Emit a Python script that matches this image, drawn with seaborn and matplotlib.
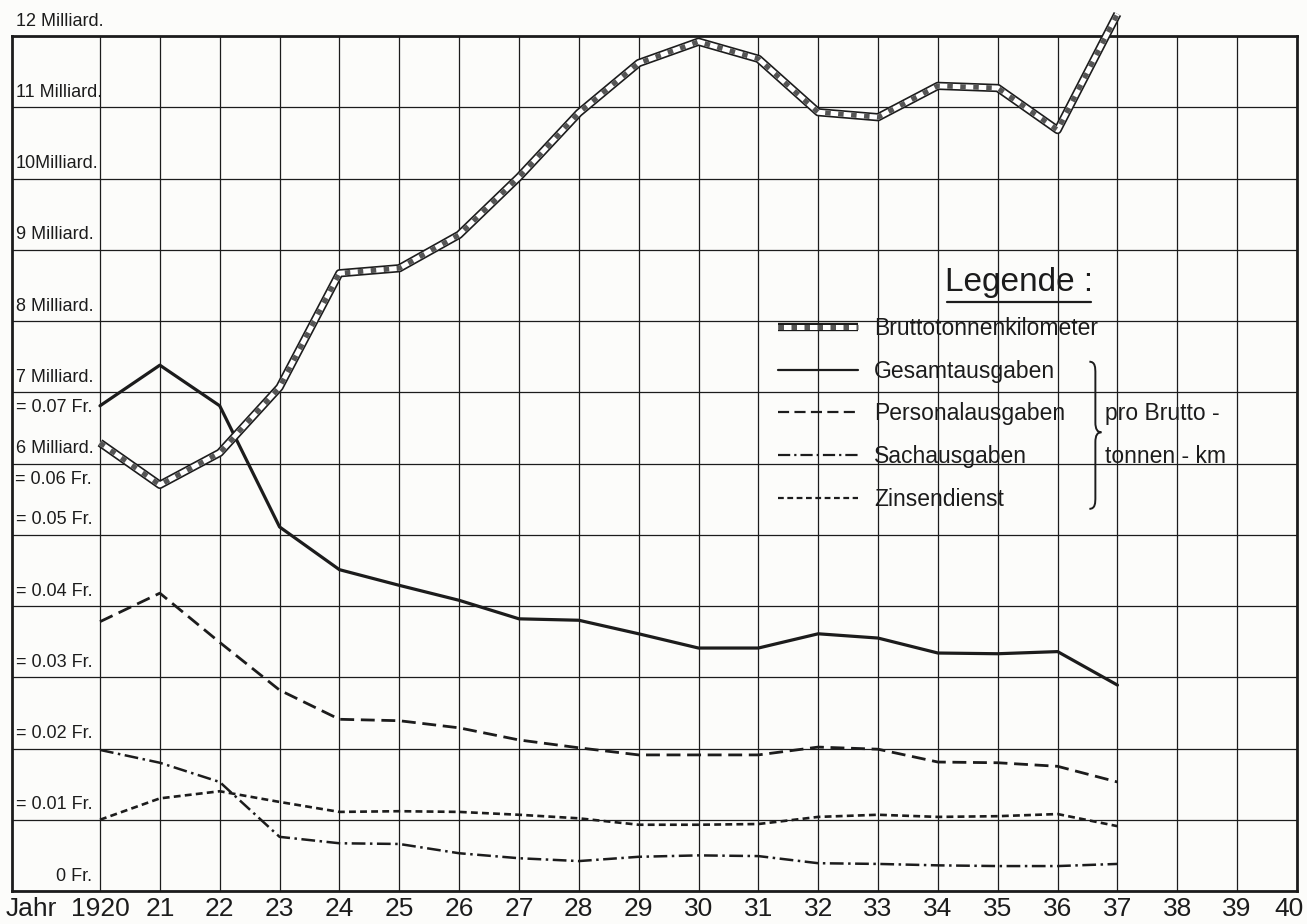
import numpy as np
import pandas as pd
import matplotlib.pyplot as plt
import seaborn as sns
from matplotlib.lines import Line2D
from matplotlib.path import Path
from matplotlib.patches import PathPatch
from matplotlib.legend_handler import HandlerTuple
import matplotlib.transforms as mtransforms

plt.switch_backend('Agg')

# Daten - 1 Milliard BTKM entspricht 0.01 Fr. auf der gemeinsamen Skala
years = list(range(1920, 1938))
brutto_mrd = [6.29, 5.70, 6.15, 7.07, 8.67, 8.74, 9.21, 10.02, 10.92, 11.62,
              11.92, 11.68, 10.93, 10.86, 11.30, 11.27, 10.68, 12.31]
gesamt_fr = [0.0681, 0.0738, 0.0681, 0.0511, 0.0451, 0.0429, 0.0408, 0.0382, 0.0380,
             0.0361, 0.0341, 0.0341, 0.0361, 0.0355, 0.0334, 0.0333, 0.0336, 0.0289]
personal_fr = [0.0378, 0.0418, 0.0349, 0.0282, 0.0241, 0.0239, 0.0229, 0.0212, 0.0201,
               0.0191, 0.0191, 0.0191, 0.0202, 0.0199, 0.0181, 0.0180, 0.0175, 0.0153]
sach_fr = [0.0198, 0.0180, 0.0153, 0.0076, 0.0067, 0.0066, 0.0053, 0.0046, 0.0042,
           0.0048, 0.0050, 0.0049, 0.0039, 0.0038, 0.0036, 0.0035, 0.0035, 0.0038]
zins_fr = [0.0100, 0.0130, 0.0140, 0.0125, 0.0111, 0.0112, 0.0111, 0.0107, 0.0102,
           0.0093, 0.0093, 0.0094, 0.0104, 0.0107, 0.0104, 0.0105, 0.0108, 0.0091]

x_ticks = list(range(1920, 1941))
x_labels = ['1920'] + [str(y % 100) for y in range(1921, 1941)]
mrd_ticks = [12, 11, 10, 9, 8, 7, 6]
mrd_labels = ['12 Milliard.', '11 Milliard.', '10Milliard.', '9 Milliard.',
              '8 Milliard.', '7 Milliard.', '6 Milliard.']
fr_ticks = [0.07, 0.06, 0.05, 0.04, 0.03, 0.02, 0.01, 0.0]
fr_labels = ['= 0.07 Fr.', '= 0.06 Fr.', '= 0.05 Fr.', '= 0.04 Fr.',
             '= 0.03 Fr.', '= 0.02 Fr.', '= 0.01 Fr.', '0 Fr.']
legend_labels = ['Bruttotonnenkilometer', 'Gesamtausgaben', 'Personalausgaben',
                 'Sachausgaben', 'Zinsendienst']

df = pd.DataFrame({
    'Jahr': years,
    'Brutto': brutto_mrd,
    'Gesamt': np.array(gesamt_fr) * 100,
    'Personal': np.array(personal_fr) * 100,
    'Sach': np.array(sach_fr) * 100,
    'Zins': np.array(zins_fr) * 100,
})

sns.set_theme(style='white')
fam = ['Liberation Sans', 'DejaVu Sans']
plt.rcParams['font.family'] = fam

ink = '#1c1c1c'
paper = '#fcfcfa'
W, H = 1307, 924

fig = plt.figure(figsize=(W / 100, H / 100), dpi=100, facecolor=paper)
ax = fig.add_axes([12 / W, 1 - 891 / H, 1285 / W, 855 / H])
ax.set_facecolor(paper)

# Linienstile
ls_personal = (0, (5, 2.4))
ls_sach = (0, (5.5, 1.8, 1.0, 1.8))
ls_zins = (0, (2.6, 1.6))

sns.lineplot(data=df, x='Jahr', y='Gesamt', ax=ax, color=ink, lw=2.3, legend=False, zorder=4)
sns.lineplot(data=df, x='Jahr', y='Personal', ax=ax, color=ink, lw=2.0,
             linestyle=ls_personal, legend=False, zorder=4)
sns.lineplot(data=df, x='Jahr', y='Sach', ax=ax, color=ink, lw=1.8,
             linestyle=ls_sach, legend=False, zorder=4)
sns.lineplot(data=df, x='Jahr', y='Zins', ax=ax, color=ink, lw=1.9,
             linestyle=ls_zins, legend=False, zorder=4)

# Bruttotonnenkilometer: Band mit hellen/dunklen Feldern
band_kw = dict(ax=ax, legend=False, clip_on=False, solid_capstyle='butt')
sns.lineplot(data=df, x='Jahr', y='Brutto', color=ink, lw=6.0, zorder=5, **band_kw)
sns.lineplot(data=df, x='Jahr', y='Brutto', color='white', lw=3.6, zorder=6, **band_kw)
sns.lineplot(data=df, x='Jahr', y='Brutto', color='#555555', lw=3.6,
             linestyle=(0, (1.1, 1.5)), zorder=7, ax=ax, legend=False, clip_on=False)

# Gitter verlaengert bis zur letzten Brutto-Spitze
ax.vlines(years[-1], 12, brutto_mrd[-1], color=ink, lw=0.9, clip_on=False, zorder=3)

ax.set_xlim(1920 - 88 / 59.85, 1940)
ax.set_ylim(0, 12)
ax.set_xticks(x_ticks)
ax.set_xticklabels(x_labels, fontsize=19, color=ink)
ax.set_yticks(range(0, 13))
ax.set_yticklabels([])
ax.tick_params(axis='both', length=0)
ax.tick_params(axis='x', pad=4)
last = ax.get_xticklabels()[-1]
last.set_transform(last.get_transform() +
                   mtransforms.ScaledTranslation(-6 / 72, 0, fig.dpi_scale_trans))
ax.grid(True, color=ink, lw=0.9)
ax.set_axisbelow(True)
ax.set_xlabel('')
ax.set_ylabel('')
for sp in ax.spines.values():
    sp.set_visible(True)
    sp.set_color(ink)
    sp.set_linewidth(2.0)

fig.text(6 / W, 1 - 909 / H, 'Jahr', fontsize=19, color=ink, ha='left', va='center')

# Beschriftung der Skala
trans = mtransforms.blended_transform_factory(ax.transAxes, ax.transData)
for v, lab in zip(mrd_ticks, mrd_labels):
    ax.text(0.0028, v + 0.09, lab, transform=trans, fontsize=13,
            color=ink, ha='left', va='bottom', clip_on=False)
for v, lab in zip(fr_ticks, fr_labels):
    if v >= 0.06:
        ax.text(0.0623, v * 100 - 0.1, lab, transform=trans,
                fontsize=13, color=ink, ha='right', va='top')
    else:
        ax.text(0.0623, v * 100 + 0.09, lab, transform=trans,
                fontsize=13, color=ink, ha='right', va='bottom')

# Legende
brutto_handle = (Line2D([], [], color=ink, lw=6.0, solid_capstyle='butt'),
                 Line2D([], [], color='white', lw=3.6, solid_capstyle='butt'),
                 Line2D([], [], color='#555555', lw=3.6, linestyle=(0, (1.1, 1.5))))
handles = [brutto_handle,
           Line2D([], [], color=ink, lw=1.6),
           Line2D([], [], color=ink, lw=1.6, linestyle=ls_personal),
           Line2D([], [], color=ink, lw=1.6, linestyle=ls_sach),
           Line2D([], [], color=ink, lw=1.6, linestyle=ls_zins)]
leg = ax.legend(handles, legend_labels, loc='upper left',
                bbox_to_anchor=((778 - 12) / 1285, (891 - 317) / 855),
                frameon=False, prop={'size': 16.5},
                handlelength=3.5, handletextpad=0.7, labelspacing=0.86,
                borderpad=0, borderaxespad=0,
                handler_map={tuple: HandlerTuple(ndivide=1, pad=0)})
for t in leg.get_texts():
    t.set_color(ink)

title = ax.text((945 - 12) / 1285, (891 - 283) / 855, 'Legende :', transform=ax.transAxes,
                fontsize=24, color=ink, ha='left', va='center')

fig.canvas.draw()
renderer = fig.canvas.get_renderer()

# Unterstreichung
tb = title.get_window_extent(renderer)
fig.add_artist(Line2D([tb.x0 + 2, tb.x1 - 2], [tb.y0 - 3, tb.y0 - 3], color=ink, lw=1.6,
                      transform=mtransforms.IdentityTransform()))

# Geschweifte Klammer fuer die vier Ausgaben
boxes = [t.get_window_extent(renderer) for t in leg.get_texts()[1:]]
xa = max(b.x1 for b in boxes) + 24
yt = boxes[0].y1 - 2
yb = boxes[-1].y0 + 2
ym = (yt + yb) / 2 + 3
xb = xa + 6
xc = xa + 12
verts = [(xa, yt), (xb, yt), (xb, yt - 6), (xb, yt - 12),
         (xb, ym + 10),
         (xb, ym + 3), (xb + 2, ym), (xc, ym),
         (xb + 2, ym), (xb, ym - 3), (xb, ym - 10),
         (xb, yb + 12),
         (xb, yb + 6), (xb, yb), (xa, yb)]
codes = [Path.MOVETO, Path.CURVE4, Path.CURVE4, Path.CURVE4,
         Path.LINETO,
         Path.CURVE4, Path.CURVE4, Path.CURVE4,
         Path.CURVE4, Path.CURVE4, Path.CURVE4,
         Path.LINETO,
         Path.CURVE4, Path.CURVE4, Path.CURVE4]
fig.add_artist(PathPatch(Path(verts, codes), fill=False, edgecolor=ink, lw=1.4,
                         transform=mtransforms.IdentityTransform()))

yp = (boxes[1].y0 + boxes[1].y1) / 2
ys = (boxes[2].y0 + boxes[2].y1) / 2
fig.text((xc + 4) / W, yp / H, 'pro Brutto -', fontsize=16.5,
         color=ink, ha='left', va='center')
fig.text((xc + 4) / W, ys / H, 'tonnen - km', fontsize=16.5,
         color=ink, ha='left', va='center')

fig.savefig('out.png', dpi=100, facecolor=paper)
